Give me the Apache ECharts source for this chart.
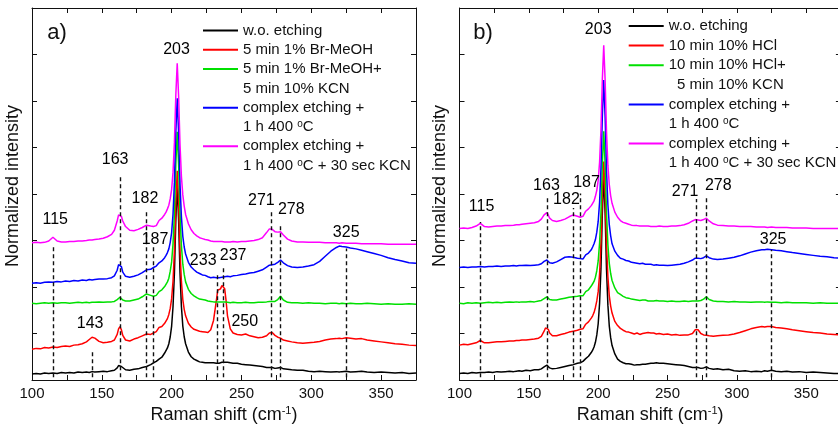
<!DOCTYPE html>
<html>
<head>
<meta charset="utf-8">
<script src="https://cdn.jsdelivr.net/npm/echarts@6/dist/echarts.min.js"></script>
<style>
  html, body { margin: 0; padding: 0; background: #fff; }
  #chart { width: 838px; height: 425px; }
</style>
</head>
<body>
<div id="chart"></div>
<script>
// Raman shift sampling (cm-1), shared by all spectra
const ramanShift = [
  100,103,106,109,112,115,118,121,124,127,
  130,133,136,139,141,143,145,148,151,154,
  157,159,161,162,163,164,165,167,170,173,
  176,179,182,185,187,189,191,193,195,196,
  197,198,199,200,201,202,203,204,205,206,
  207,208,209,210,212,214,216,218,220,222,
  224,226,228,230,232,233,234,235,236,237,
  238,239,240,242,244,247,250,253,256,259,
  262,265,268,270,271,272,274,276,278,280,
  283,286,290,294,298,302,306,310,314,318,
  320,322,325,328,332,336,340,345,350,355,
  360,365,370,375
];

// ---- Panel a) : Br-MeOH series (normalized intensity, stacked offsets) ----
const woEtchingA = [
  0.13,0.14,0.13,0.15,0.14,0.15,0.14,0.16,0.15,0.16,
  0.15,0.17,0.16,0.17,0.16,0.18,0.17,0.18,0.19,0.18,
  0.20,0.21,0.26,0.31,0.33,0.29,0.25,0.22,0.21,0.23,
  0.24,0.27,0.29,0.33,0.37,0.40,0.45,0.49,0.58,0.62,
  0.69,0.78,0.93,1.16,1.58,2.30,3.44,4.20,3.44,2.30,
  1.58,1.16,0.93,0.78,0.60,0.50,0.45,0.42,0.39,0.38,
  0.37,0.37,0.37,0.37,0.36,0.37,0.36,0.37,0.38,0.37,
  0.38,0.37,0.38,0.37,0.36,0.36,0.34,0.33,0.32,0.31,
  0.30,0.29,0.27,0.27,0.29,0.27,0.25,0.26,0.27,0.24,
  0.23,0.22,0.21,0.21,0.19,0.18,0.19,0.18,0.17,0.18,
  0.17,0.18,0.19,0.17,0.18,0.19,0.17,0.16,0.17,0.16,
  0.15,0.16,0.14,0.15
];
const brMeOHA = [
  0.66,0.68,0.67,0.70,0.69,0.71,0.70,0.72,0.73,0.72,
  0.75,0.76,0.78,0.82,0.87,0.92,0.90,0.83,0.80,0.81,
  0.83,0.86,0.98,1.10,1.15,1.08,0.96,0.86,0.84,0.88,
  0.91,0.95,0.99,0.98,1.01,1.04,1.13,1.15,1.22,1.26,
  1.32,1.41,1.54,1.75,2.13,2.79,3.82,4.50,3.81,2.78,
  2.12,1.73,1.52,1.38,1.22,1.14,1.09,1.07,1.05,1.04,
  1.03,1.02,1.08,1.28,1.70,1.93,1.91,1.96,2.03,2.05,
  1.96,1.70,1.38,1.10,1.01,0.98,0.97,0.99,0.95,0.93,
  0.91,0.92,0.95,1.01,1.04,1.02,0.96,0.92,0.90,0.86,
  0.84,0.82,0.80,0.79,0.80,0.81,0.83,0.86,0.88,0.89,
  0.90,0.89,0.91,0.90,0.88,0.89,0.86,0.84,0.82,0.80,
  0.78,0.77,0.75,0.74
];
const brMeOHKcnA = [
  1.65,1.64,1.65,1.66,1.65,1.66,1.65,1.66,1.66,1.65,
  1.66,1.67,1.66,1.67,1.66,1.67,1.67,1.68,1.67,1.68,
  1.68,1.69,1.73,1.77,1.78,1.75,1.72,1.70,1.70,1.72,
  1.74,1.79,1.85,1.82,1.80,1.82,1.90,1.94,2.01,2.05,
  2.11,2.19,2.34,2.54,2.93,3.59,4.64,5.34,4.63,3.57,
  2.89,2.49,2.27,2.11,1.95,1.86,1.81,1.77,1.74,1.73,
  1.72,1.70,1.69,1.68,1.68,1.67,1.68,1.67,1.68,1.67,
  1.68,1.67,1.67,1.66,1.67,1.66,1.66,1.67,1.66,1.66,
  1.67,1.67,1.68,1.69,1.70,1.69,1.69,1.73,1.80,1.72,
  1.67,1.66,1.66,1.65,1.66,1.65,1.65,1.64,1.65,1.65,
  1.64,1.65,1.64,1.65,1.64,1.64,1.65,1.64,1.63,1.64,
  1.63,1.63,1.64,1.63
];
const complexA = [
  2.08,2.09,2.08,2.10,2.11,2.10,2.12,2.11,2.13,2.12,
  2.14,2.13,2.15,2.14,2.16,2.15,2.16,2.17,2.17,2.18,
  2.20,2.24,2.36,2.48,2.52,2.44,2.32,2.23,2.21,2.23,
  2.26,2.31,2.37,2.38,2.42,2.45,2.52,2.56,2.63,2.68,
  2.74,2.82,2.96,3.17,3.57,4.25,5.34,6.06,5.32,4.21,
  3.51,3.09,2.86,2.71,2.53,2.43,2.37,2.32,2.29,2.26,
  2.25,2.22,2.20,2.21,2.20,2.21,2.20,2.22,2.21,2.21,
  2.22,2.21,2.23,2.22,2.24,2.25,2.27,2.28,2.30,2.31,
  2.34,2.37,2.43,2.47,2.49,2.48,2.49,2.53,2.58,2.52,
  2.46,2.43,2.42,2.43,2.45,2.48,2.55,2.66,2.77,2.85,
  2.88,2.87,2.86,2.84,2.82,2.79,2.76,2.72,2.68,2.63,
  2.59,2.56,2.52,2.51
];
const complexKcnA = [
  2.95,2.96,2.95,2.96,2.99,3.07,2.99,2.97,2.97,2.98,
  2.98,2.99,2.99,3.00,3.01,3.01,3.02,3.03,3.05,3.08,
  3.13,3.22,3.42,3.55,3.59,3.52,3.42,3.30,3.22,3.21,
  3.24,3.28,3.33,3.31,3.30,3.32,3.43,3.48,3.56,3.61,
  3.68,3.76,3.90,4.10,4.47,5.11,6.13,6.81,6.10,5.06,
  4.38,3.98,3.74,3.56,3.36,3.23,3.15,3.10,3.06,3.04,
  3.02,3.01,2.99,2.98,2.98,2.97,2.98,2.97,2.98,2.97,
  2.97,2.98,2.97,2.97,2.98,2.97,2.98,2.98,2.99,3.00,
  3.02,3.06,3.17,3.25,3.26,3.24,3.19,3.18,3.19,3.12,
  3.03,2.99,2.97,2.97,2.96,2.96,2.96,2.95,2.95,2.95,
  2.94,2.95,2.94,2.94,2.94,2.93,2.93,2.93,2.93,2.92,
  2.92,2.92,2.92,2.92
];

// ---- Panel b) : HCl series ----
const woEtchingB = [
  0.14,0.15,0.14,0.16,0.15,0.16,0.16,0.17,0.16,0.18,
  0.17,0.18,0.19,0.18,0.19,0.20,0.19,0.21,0.20,0.22,
  0.22,0.24,0.28,0.31,0.32,0.29,0.26,0.24,0.25,0.27,
  0.29,0.31,0.33,0.36,0.37,0.40,0.46,0.51,0.59,0.64,
  0.71,0.81,0.97,1.21,1.65,2.40,3.60,4.40,3.59,2.38,
  1.61,1.16,0.91,0.74,0.56,0.45,0.40,0.37,0.35,0.35,
  0.34,0.32,0.33,0.33,0.34,0.35,0.34,0.36,0.35,0.36,
  0.36,0.37,0.36,0.37,0.36,0.36,0.35,0.34,0.33,0.32,
  0.31,0.29,0.27,0.27,0.29,0.27,0.25,0.26,0.28,0.25,
  0.23,0.24,0.22,0.23,0.20,0.19,0.20,0.18,0.19,0.18,
  0.20,0.19,0.21,0.19,0.18,0.19,0.17,0.18,0.16,0.17,
  0.16,0.15,0.14,0.14
];
const hclB = [
  0.75,0.77,0.76,0.78,0.80,0.85,0.80,0.80,0.81,0.82,
  0.82,0.83,0.84,0.84,0.85,0.85,0.86,0.86,0.87,0.88,
  0.90,0.94,1.05,1.12,1.15,1.09,1.01,0.95,0.95,0.98,
  1.00,1.03,1.05,1.07,1.09,1.10,1.20,1.25,1.33,1.38,
  1.45,1.56,1.70,1.90,2.28,2.95,4.00,4.70,3.98,2.91,
  2.22,1.81,1.59,1.44,1.26,1.17,1.11,1.07,1.04,1.03,
  1.01,0.99,1.01,0.98,1.00,0.99,1.01,1.00,1.02,1.00,
  1.01,0.99,1.01,0.99,1.00,0.98,0.99,0.97,0.98,0.96,
  0.97,0.97,1.00,1.08,1.11,1.08,1.00,0.97,0.96,0.95,
  0.94,0.95,0.96,0.97,0.99,1.02,1.06,1.10,1.13,1.15,
  1.14,1.15,1.15,1.13,1.12,1.10,1.08,1.06,1.04,1.02,
  1.01,0.99,0.98,0.97
];
const hclKcnB = [
  1.65,1.64,1.66,1.65,1.66,1.65,1.66,1.67,1.66,1.67,
  1.66,1.67,1.68,1.67,1.68,1.67,1.68,1.68,1.69,1.68,
  1.70,1.71,1.75,1.78,1.79,1.76,1.73,1.72,1.72,1.74,
  1.76,1.78,1.79,1.80,1.81,1.81,1.90,1.94,2.02,2.07,
  2.12,2.21,2.35,2.56,2.95,3.60,4.65,5.35,4.64,3.58,
  2.91,2.51,2.29,2.14,1.98,1.88,1.84,1.80,1.77,1.76,
  1.74,1.73,1.72,1.71,1.72,1.71,1.72,1.71,1.70,1.71,
  1.70,1.71,1.70,1.71,1.70,1.70,1.69,1.70,1.69,1.69,
  1.70,1.69,1.70,1.70,1.71,1.70,1.71,1.74,1.79,1.73,
  1.70,1.69,1.69,1.68,1.69,1.68,1.68,1.67,1.68,1.68,
  1.67,1.68,1.67,1.67,1.66,1.67,1.66,1.66,1.66,1.65,
  1.66,1.65,1.65,1.65
];
const complexB = [
  2.42,2.43,2.42,2.43,2.43,2.44,2.43,2.44,2.44,2.45,
  2.44,2.45,2.45,2.46,2.45,2.46,2.46,2.47,2.46,2.47,
  2.48,2.50,2.55,2.58,2.58,2.55,2.52,2.51,2.54,2.59,
  2.64,2.65,2.64,2.62,2.61,2.60,2.69,2.73,2.80,2.86,
  2.93,3.02,3.18,3.41,3.82,4.55,5.68,6.45,5.66,4.51,
  3.77,3.34,3.10,2.93,2.77,2.68,2.62,2.60,2.57,2.56,
  2.53,2.52,2.51,2.50,2.51,2.50,2.49,2.50,2.49,2.48,
  2.49,2.48,2.47,2.48,2.47,2.47,2.46,2.47,2.48,2.49,
  2.51,2.54,2.58,2.62,2.64,2.62,2.61,2.63,2.67,2.63,
  2.60,2.59,2.60,2.62,2.64,2.67,2.71,2.75,2.78,2.80,
  2.80,2.81,2.80,2.79,2.78,2.76,2.74,2.72,2.70,2.68,
  2.66,2.65,2.63,2.62
];
const complexKcnB = [
  3.26,3.27,3.26,3.28,3.31,3.37,3.30,3.29,3.30,3.31,
  3.31,3.32,3.32,3.33,3.34,3.34,3.35,3.36,3.37,3.38,
  3.41,3.46,3.55,3.59,3.60,3.55,3.48,3.43,3.41,3.43,
  3.46,3.51,3.55,3.52,3.50,3.52,3.63,3.68,3.75,3.80,
  3.85,3.95,4.08,4.29,4.68,5.38,6.47,7.20,6.45,5.34,
  4.62,4.20,3.96,3.80,3.61,3.50,3.43,3.39,3.37,3.35,
  3.33,3.32,3.32,3.31,3.31,3.30,3.31,3.30,3.31,3.30,
  3.30,3.31,3.30,3.30,3.31,3.30,3.30,3.31,3.31,3.32,
  3.34,3.37,3.42,3.45,3.46,3.44,3.43,3.45,3.48,3.42,
  3.36,3.33,3.32,3.31,3.31,3.30,3.30,3.30,3.29,3.29,
  3.29,3.28,3.29,3.28,3.28,3.28,3.27,3.27,3.27,3.26,
  3.26,3.26,3.26,3.26
];

// Assigned Raman modes: dashed guide lines and number labels
const peakLinesA  = [115, 143, 163, 182, 187, 233, 237, 271, 278, 325];
const peakLabelsA = [115, 143, 163, 182, 187, 203, 233, 237, 250, 271, 278, 325];
const peakLinesB  = [115, 163, 182, 187, 271, 278, 325];
const peakLabelsB = [115, 163, 182, 187, 203, 271, 278, 325];

// Legend rows (continuation rows carry no line sample)
const legendTextA = ['w.o. etching', '5 min 1% Br-MeOH', '5 min 1% Br-MeOH+', '5 min 10% KCN',
                     'complex etching +', '1 h 400 °C', 'complex etching +', '1 h 400 °C + 30 sec KCN'];
const legendTextB = ['w.o. etching', '10 min 10% HCl', '10 min 10% HCl+', '  5 min 10% KCN',
                     'complex etching +', '1 h 400 °C', 'complex etching +', '1 h 400 °C + 30 sec KCN'];

// ---- layout ----
const FONT = "'Liberation Sans', Arial, Helvetica, sans-serif";
const INK = '#111111';
const colors = ['#000000', '#ff0000', '#00e000', '#0000ff', '#ff00ff'];
const dashBottom = 0.06;
const dashTopA = [2.87, 0.64, 4.37, 3.66, 2.90, 2.30, 2.42, 3.62, 3.37, 2.83];
const dashTopB = [3.40, 3.93, 3.70, 4.01, 3.89, 3.92, 2.80];
const labelPosA = [[116.6,3.44],[141.6,1.22],[159.5,4.75],[180.9,3.90],[188.1,3.01],[203.5,7.11],
                   [222.6,2.57],[244.0,2.68],[252.4,1.25],[264.3,3.86],[285.7,3.66],[325.0,3.17]];
const labelPosB = [[115.9,3.73],[162.7,4.19],[177.1,3.87],[191.6,4.25],[200.0,7.53],
                   [262.6,4.05],[286.6,4.19],[326.1,3.03]];

const grids = [
  { left: 32, top: 8, width: 384, height: 372 },
  { left: 459.5, top: 8, width: 381.4, height: 372 }
];

const keysA = ['a0', 'a1', 'a2', 'a2x', 'a3', 'a3x', 'a4', 'a4x'];
const keysB = ['b0', 'b1', 'b2', 'b2x', 'b3', 'b3x', 'b4', 'b4x'];
const textByKey = {};
keysA.forEach((k, i) => { textByKey[k] = legendTextA[i]; });
keysB.forEach((k, i) => { textByKey[k] = legendTextB[i]; });

function spectrum(name, values, color, gi) {
  return {
    type: 'line', name: name,
    xAxisIndex: gi * 2, yAxisIndex: gi * 2,
    data: ramanShift.map((x, i) => [x, values[i]]),
    symbol: 'none', showSymbol: false,
    lineStyle: { color: color, width: 1.5 },
    itemStyle: { color: color },
    animation: false, silent: true, z: 3
  };
}
function spacer(name, gi) {
  return { type: 'line', name: name, xAxisIndex: gi * 2, yAxisIndex: gi * 2, data: [],
           itemStyle: { color: 'rgba(0,0,0,0)' }, silent: true };
}
function guides(lines, tops, gi) {
  return {
    type: 'lines', coordinateSystem: 'cartesian2d',
    xAxisIndex: gi * 2, yAxisIndex: gi * 2,
    data: lines.map((p, i) => ({ coords: [[p, dashBottom], [p, tops[i]]] })),
    lineStyle: { color: '#111', width: 1.4, type: [4, 3], opacity: 1 },
    silent: true, animation: false, z: 4
  };
}
function peakText(labels, pos, gi) {
  return {
    type: 'scatter', xAxisIndex: gi * 2, yAxisIndex: gi * 2,
    data: labels.map((v, i) => ({ name: String(v), value: pos[i] })),
    symbolSize: 0,
    itemStyle: { color: INK, opacity: 1 },
    label: { show: true, position: [0, 0], align: 'center', verticalAlign: 'middle',
             formatter: '{b}', fontSize: 16, color: '#000', fontFamily: FONT },
    labelLayout: { hideOverlap: false },
    silent: true, animation: false, z: 5
  };
}

const sets = [
  [woEtchingA, brMeOHA, brMeOHKcnA, complexA, complexKcnA],
  [woEtchingB, hclB, hclKcnB, complexB, complexKcnB]
];
const keySets = [keysA, keysB];

const series = [];
[0, 1].forEach(gi => {
  const keys = keySets[gi];
  const realKeys = keys.filter(k => !k.endsWith('x'));
  realKeys.forEach((k, i) => series.push(spectrum(k, sets[gi][i], colors[i], gi)));
  keys.filter(k => k.endsWith('x')).forEach(k => series.push(spacer(k, gi)));
});
series.push(guides(peakLinesA, dashTopA, 0));
series.push(guides(peakLinesB, dashTopB, 1));
series.push(peakText(peakLabelsA, labelPosA, 0));
series.push(peakText(peakLabelsB, labelPosB, 1));

const xAxes = [], yAxes = [];
[0, 1].forEach(gi => {
  const line = { show: true, onZero: false, lineStyle: { color: INK, width: 1 } };
  const tick = { show: true, inside: true, length: 5, lineStyle: { color: INK, width: 1 } };
  xAxes.push({
    gridIndex: gi, type: 'value', min: 100, max: 375, interval: 25, position: 'bottom',
    axisLine: line, axisTick: tick, splitLine: { show: false },
    axisLabel: { show: true, formatter: v => (v % 50 === 0 ? String(v) : ''), fontSize: 15,
                 color: INK, margin: 6, fontFamily: FONT, showMaxLabel: true },
    name: 'Raman shift (cm{sup|-1})', nameLocation: 'middle', nameGap: 21,
    nameTextStyle: { fontSize: 18, color: INK, fontFamily: FONT,
                     rich: { sup: { fontSize: 11, verticalAlign: 'top', color: INK, fontFamily: FONT } } }
  });
  xAxes.push({
    gridIndex: gi, type: 'value', min: 100, max: 375, interval: 25, position: 'top',
    axisLine: line, axisTick: tick, axisLabel: { show: false }, splitLine: { show: false }
  });
  yAxes.push({
    gridIndex: gi, type: 'value', min: 0, max: 8, interval: 1, position: 'left',
    axisLine: line, axisTick: tick, axisLabel: { show: false }, splitLine: { show: false },
    name: 'Normalized intensity', nameLocation: 'middle', nameGap: 10,
    nameTextStyle: { fontSize: 18, color: INK, fontFamily: FONT, padding: [0, 0, 0, 16] }
  });
  yAxes.push({
    gridIndex: gi, type: 'value', min: 0, max: 8, interval: 1, position: 'right',
    axisLine: line, axisTick: tick, axisLabel: { show: false }, splitLine: { show: false }
  });
});

function legendFor(keys, left, top, gap) {
  return {
    orient: 'vertical', left: left, top: top, padding: 0,
    itemWidth: 35, itemHeight: 2, itemGap: gap, icon: 'rect', selectedMode: false,
    data: keys.map(k => (k.endsWith('x') ? { name: k, icon: 'none' } : { name: k })),
    formatter: name => textByKey[name].replace('°', '{o|o}'),
    textStyle: { fontSize: 15, color: INK, fontFamily: FONT, padding: [0, 0, 0, 0],
                 rich: { o: { fontSize: 10, verticalAlign: 'top', color: INK, fontFamily: FONT } } }
  };
}

const chart = echarts.init(document.getElementById('chart'), null, { renderer: 'canvas' });
chart.setOption({
  animation: false,
  backgroundColor: '#ffffff',
  grid: grids.map(g => Object.assign({ outerBoundsMode: 'none', containLabel: false }, g)),
  xAxis: xAxes,
  yAxis: yAxes,
  legend: [legendFor(keysA, 203, 23, 4.3), legendFor(keysB, 628.7, 18.5, 4.6)],
  graphic: [
    { type: 'text', x: 57, y: 33, style: { text: 'a)', fontSize: 22, fill: INK, fontFamily: FONT, align: 'center', verticalAlign: 'middle' } },
    { type: 'text', x: 483, y: 33, style: { text: 'b)', fontSize: 22, fill: INK, fontFamily: FONT, align: 'center', verticalAlign: 'middle' } }
  ],
  series: series
});
</script>
</body>
</html>
